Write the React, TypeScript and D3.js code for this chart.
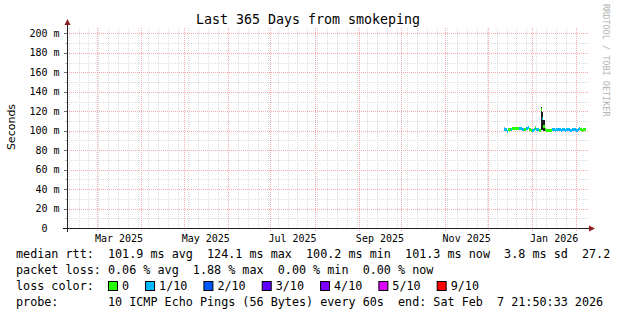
import React from "react";
import * as d3 from "d3";

const W = 617;
const H = 310;

const startTime = new Date(Date.UTC(2025, 1, 7, 21, 50, 33));
const endTime = new Date(Date.UTC(2026, 1, 7, 21, 50, 33));
const firstDataDay = new Date(Date.UTC(2025, 11, 12));

// median rtt per day (ms) from Dec 12 2025 to Feb 7 2026
const medians = [
  101.6, 101.2, 99.6, 101.0, 100.9, 101.4, 102.0, 102.2, 102.3, 102.1,
  102.2, 102.4, 102.1, 101.6, 101.0, 100.8, 102.6, 103.8, 101.0, 100.7,
  100.6, 101.2, 102.8, 101.0, 100.8, 100.7, 121.5, 113.0, 104.0, 100.8,
  100.6, 100.5, 100.6, 100.7, 100.9, 100.8, 100.7, 100.8, 100.9, 100.8,
  100.7, 101.5, 100.8, 100.7, 100.8, 100.9, 100.8, 100.7, 100.8, 100.9,
  100.8, 100.7, 101.5, 102.5, 100.8, 100.7, 100.8, 100.9,
];
// loss index per day (0 = 0, 1 = 1/10 ...)
const losses = [
  1, 1, 1, 0, 0, 1, 0, 0, 0, 0,
  0, 1, 1, 1, 0, 0, 1, 1, 0, 0,
  1, 1, 0, 1, 1, 0, 0, 1, 0, 0,
  0, 0, 0, 0, 1, 1, 1, 1, 1, 1,
  1, 1, 1, 1, 1, 1, 1, 1, 1, 1,
  1, 1, 1, 1, 0, 0, 0, 0,
];
// smoke range per day (ms)
const smokeLo = [
  100.0, 100.5, 99.0, 100.5, 100.4, 100.8, 101.5, 101.7, 101.8, 101.6,
  101.7, 101.9, 101.6, 101.1, 100.5, 100.3, 101.8, 101.5, 100.5, 100.2,
  100.1, 100.7, 101.0, 100.5, 100.3, 100.3, 100.4, 100.8, 100.2, 100.3,
  100.1, 100.0, 100.1, 100.2, 100.4, 100.3, 100.2, 100.3, 100.4, 100.3,
  100.2, 100.6, 100.3, 100.2, 100.3, 100.4, 100.3, 100.2, 100.3, 100.4,
  100.3, 100.2, 100.5, 100.5, 100.3, 100.2, 100.3, 100.4,
];
const smokeHi = [
  104.0, 102.0, 100.5, 101.6, 101.5, 102.0, 102.6, 102.8, 102.9, 102.7,
  102.8, 103.0, 102.7, 102.2, 101.6, 101.4, 103.4, 104.8, 101.6, 101.3,
  101.2, 101.8, 104.8, 101.6, 101.4, 101.3, 124.1, 119.5, 111.0, 101.4,
  101.2, 101.1, 101.2, 101.3, 101.5, 101.4, 101.3, 101.4, 101.5, 101.4,
  101.3, 102.2, 101.4, 101.3, 101.4, 101.5, 101.4, 101.3, 101.4, 101.5,
  101.4, 101.3, 103.0, 104.0, 101.4, 101.3, 101.4, 101.5,
];

const yMajor = [0, 20, 40, 60, 80, 100, 120, 140, 160, 180, 200];
const yLabels = ["0  ", "20 m", "40 m", "60 m", "80 m", "100 m", "120 m", "140 m", "160 m", "180 m", "200 m"];
const yMinor = [10, 30, 50, 70, 90, 110, 130, 150, 170, 190];
const xLabelMonths = [
  new Date(Date.UTC(2025, 2, 1)),
  new Date(Date.UTC(2025, 4, 1)),
  new Date(Date.UTC(2025, 6, 1)),
  new Date(Date.UTC(2025, 8, 1)),
  new Date(Date.UTC(2025, 10, 1)),
  new Date(Date.UTC(2026, 0, 1)),
];

const lossColors = ["#26ff00", "#00b8ff", "#0059ff", "#5e00ff", "#7e00ff", "#dd00ff", "#ff0000"];
const lossLabels = ["0", "1/10", "2/10", "3/10", "4/10", "5/10", "9/10"];

const title = "Last 365 Days from smokeping";
const yAxisTitle = "Seconds";
const watermark = "RRDTOOL / TOBI OETIKER";
const legendRows = [
  "median rtt:  101.9 ms avg  124.1 ms max  100.2 ms min  101.3 ms now  3.8 ms sd  27.2",
  "packet loss: 0.06 % avg  1.88 % max  0.00 % min  0.00 % now",
  "loss color:",
  "probe:       10 ICMP Echo Pings (56 Bytes) every 60s  end: Sat Feb  7 21:50:33 2026",
];

const MONO = "'DejaVu Sans Mono', monospace";
const CW = 7.08;
const LEG_FS = CW / 0.602;

export default function App() {
  const left = 67;
  const right = 586;
  const top = 28;
  const bottom = 228;
  const x = d3.scaleUtc().domain([startTime, endTime]).range([left, right]);
  const y = d3.scaleLinear().domain([0, 205.6]).range([bottom, top]);

  const months = d3.utcMonth.range(startTime, endTime);
  const monthKeys = new Set(months.map((m) => +m));
  const weeks = d3.utcSunday.range(startTime, endTime).filter((w) => !monthKeys.has(+w));

  const days = medians.map((_, i) => d3.utcDay.offset(firstDataDay, i));

  const majorGrid = "#f4aaaa";
  const minorGrid = "#dddddd";
  const gridRight = 589;

  const legendBase = [258, 274, 290, 306];

  let bx = 108;
  const boxes = lossLabels.map((lab, i) => {
    const item = { x: bx, label: lab, color: lossColors[i] };
    bx = bx + 14 + lab.length * CW + 16;
    return item;
  });

  return (
    <svg width={W} height={H} style={{ position: "absolute", left: 0, top: 0, background: "#fff" }}>
      <rect x={0} y={0} width={W} height={H} fill="#fff" />
      {/* minor grid */}
      {weeks.map((w, i) => (
        <line key={"wv" + i} x1={Math.round(x(w)) + 0.5} x2={Math.round(x(w)) + 0.5} y1={top} y2={bottom}
          stroke={minorGrid} strokeDasharray="1,1" />
      ))}
      {yMinor.map((v, i) => (
        <line key={"hm" + i} x1={left} x2={gridRight} y1={Math.round(y(v)) + 0.5} y2={Math.round(y(v)) + 0.5}
          stroke={minorGrid} strokeDasharray="1,1" />
      ))}
      {/* major grid */}
      {months.map((m, i) => (
        <line key={"mv" + i} x1={Math.round(x(m)) + 0.5} x2={Math.round(x(m)) + 0.5} y1={top} y2={bottom + 3}
          stroke={majorGrid} strokeDasharray="1,1" />
      ))}
      {yMajor.filter((v) => v > 0).map((v, i) => (
        <line key={"hM" + i} x1={left} x2={gridRight} y1={Math.round(y(v)) + 0.5} y2={Math.round(y(v)) + 0.5}
          stroke={majorGrid} strokeDasharray="1,1" />
      ))}
      {/* y ticks */}
      {yMajor.map((v, i) => (
        <line key={"yt" + i} x1={left - 3} x2={left} y1={Math.round(y(v)) + 0.5} y2={Math.round(y(v)) + 0.5} stroke="#707070" />
      ))}
      {yMinor.map((v, i) => (
        <line key={"ytm" + i} x1={left - 2} x2={left} y1={Math.round(y(v)) + 0.5} y2={Math.round(y(v)) + 0.5} stroke="#c0c0c0" />
      ))}
      {/* smoke */}
      {days.map((d, i) => {
        const x0 = x(d);
        const x1 = x(d3.utcDay.offset(d, 1));
        const spread = smokeHi[i] - smokeLo[i];
        return (
          <rect key={"s" + i} x={x0} y={y(smokeHi[i])} width={x1 - x0} height={y(smokeLo[i]) - y(smokeHi[i])}
            fill={spread > 5 ? "#1e1e1e" : "#a8a8a8"} shapeRendering="crispEdges" />
        );
      })}
      {/* median */}
      {days.map((d, i) => {
        const x0 = x(d);
        const x1 = x(d3.utcDay.offset(d, 1));
        return (
          <rect key={"m" + i} x={x0} y={y(medians[i]) - 1.5} width={x1 - x0} height={3}
            fill={lossColors[losses[i]]} shapeRendering="crispEdges" />
        );
      })}
      {/* axes */}
      <line x1={left - 4} x2={gridRight + 1} y1={bottom + 0.5} y2={bottom + 0.5} stroke="#202020" />
      <line x1={left + 0.5} x2={left + 0.5} y1={bottom + 4} y2={top - 4} stroke="#202020" />
      <polygon points={`${gridRight},${bottom - 2.5} ${gridRight + 6},${bottom + 0.5} ${gridRight},${bottom + 3.5}`} fill="#8b1e1e" />
      <polygon points={`${left - 2.5},${top - 3} ${left + 0.5},${top - 9} ${left + 3.5},${top - 3}`} fill="#8b1e1e" />
      {/* y labels */}
      {yMajor.map((v, i) => (
        <text key={"yl" + i} x={59.5} y={y(v) + 3.5} textAnchor="end" fontFamily={MONO} fontSize={10} fill="#000"
          xmlSpace="preserve" style={{ whiteSpace: "pre" }}>
          {yLabels[i]}
        </text>
      ))}
      {/* x labels */}
      {xLabelMonths.map((m, i) => {
        const cx = (x(m) + x(d3.utcMonth.offset(m, 1))) / 2;
        return (
          <text key={"xl" + i} x={cx} y={242} textAnchor="middle" fontFamily={MONO} fontSize={10} fill="#000">
            {d3.utcFormat("%b %Y")(m)}
          </text>
        );
      })}
      {/* title */}
      <text x={308} y={24} textAnchor="middle" fontFamily={MONO} fontSize={13.3} fill="#000">{title}</text>
      {/* vertical label */}
      <text transform={`translate(15,127) rotate(-90)`} textAnchor="middle" fontFamily="'DejaVu Sans', sans-serif" fontSize={11} fill="#000">
        {yAxisTitle}
      </text>
      {/* watermark */}
      <text transform={`translate(603,4) rotate(90)`} fontFamily={MONO} fontSize={8.5} fill="#b4b4b4">{watermark}</text>
      {/* legend */}
      {legendRows.map((r, i) => (
        <text key={"lg" + i} x={16} y={legendBase[i]} fontFamily={MONO} fontSize={LEG_FS} fill="#000"
          xmlSpace="preserve" style={{ whiteSpace: "pre" }}>
          {r}
        </text>
      ))}
      {boxes.map((b, i) => (
        <g key={"bx" + i}>
          <rect x={b.x + 0.5} y={legendBase[2] - 8.5} width={9} height={9} fill={b.color} stroke="#000" />
          <text x={b.x + 14} y={legendBase[2]} fontFamily={MONO} fontSize={LEG_FS} fill="#000">{b.label}</text>
        </g>
      ))}
    </svg>
  );
}
